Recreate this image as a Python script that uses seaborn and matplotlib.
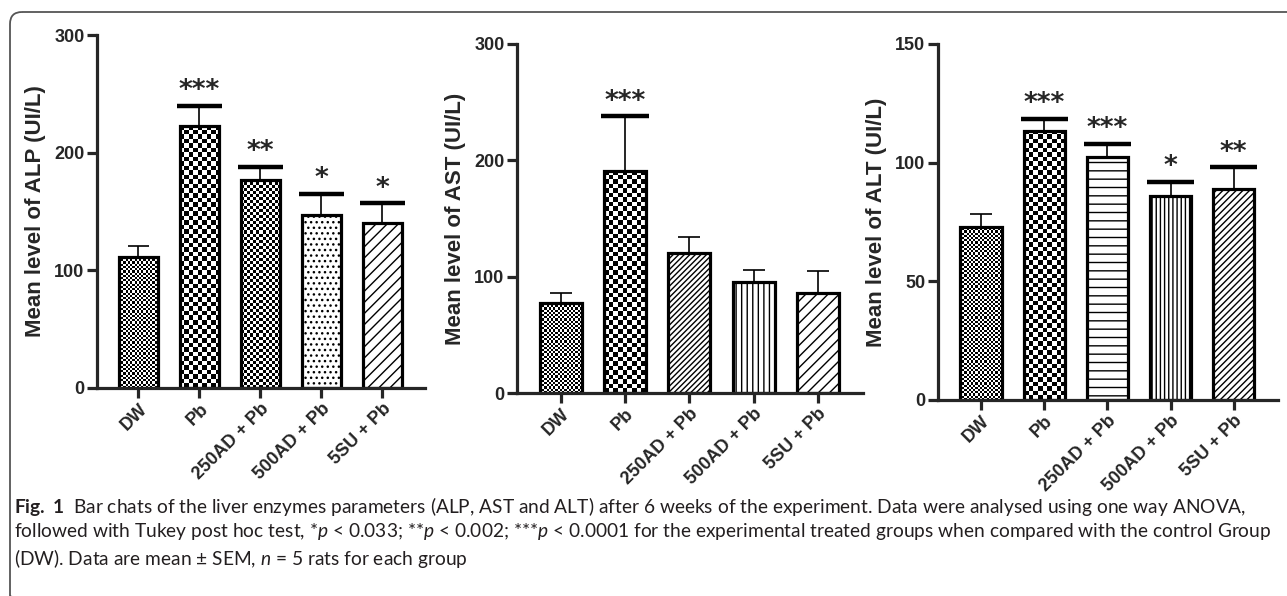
import numpy as np
import pandas as pd
import matplotlib
matplotlib.use("Agg")
import matplotlib.pyplot as plt
import seaborn as sns
from matplotlib.patches import FancyBboxPatch

# Data
groups = ["DW", "Pb", "250AD + Pb", "500AD + Pb", "5SU + Pb"]

alp_mean = [111, 223, 177, 147, 140]
alp_sem = [10, 17, 11, 18, 17]
alp_sig = ["", "***", "**", "*", "*"]

ast_mean = [77, 191, 120, 95, 86]
ast_sem = [9, 47, 14, 11, 19]
ast_sig = ["", "***", "", "", ""]

alt_mean = [73, 113.5, 102.5, 86, 89]
alt_sem = [5.5, 5, 5.5, 6, 9]
alt_sig = ["", "***", "***", "*", "**"]

# fill style per bar: ("checker", cell px) or ("hatch", pattern)
alp_fill = [("checker", 2.2), ("checker", 4.5), ("checker", 3.0), ("hatch", "..."), ("hatch", "///")]
ast_fill = [("checker", 2.2), ("checker", 4.5), ("hatch", "//////"), ("hatch", "|||"), ("hatch", "///")]
alt_fill = [("checker", 2.2), ("checker", 4.5), ("hatch", "--"), ("hatch", "||||"), ("hatch", "/////")]

sns.set_theme(style="ticks")
plt.rcParams["font.family"] = ["Liberation Sans", "DejaVu Sans"]
plt.rcParams["hatch.linewidth"] = 1.0
plt.rcParams["mathtext.fontset"] = "custom"
plt.rcParams["mathtext.rm"] = "Lato"
plt.rcParams["mathtext.it"] = "Lato:italic"
plt.rcParams["mathtext.bf"] = "Lato:bold"

W, H = 1287, 596
fig = plt.figure(figsize=(W / 100, H / 100), dpi=100)


def px_axes(left, right, top, bottom):
    return fig.add_axes([left / W, 1 - bottom / H, (right - left) / W, (bottom - top) / H])


def add_checker(ax, bar, cell):
    x0, w, h = bar.get_x(), bar.get_width(), bar.get_height()
    p0 = ax.transData.transform((x0, 0))
    p1 = ax.transData.transform((x0 + w, h))
    ncol = max(int(round(abs(p1[0] - p0[0]) / cell)), 1)
    nrow = max(int(round(abs(p1[1] - p0[1]) / cell)), 1)
    img = (np.add.outer(np.arange(nrow), np.arange(ncol)) % 2).astype(float)
    im = ax.imshow(img, extent=(x0, x0 + w, 0, h), cmap="gray", vmin=0, vmax=1,
                   interpolation="nearest", aspect="auto", zorder=0.5)
    im.set_clip_path(bar)


def panel(ax, means, sems, sigs, fills, ymax, ystep, ylabel):
    df = pd.DataFrame({"group": groups, "mean": means})
    sns.barplot(data=df, x="group", y="mean", ax=ax, color="white", width=0.65,
                edgecolor="black", linewidth=2.3, errorbar=None, saturation=1)
    ax.set_xlim(-0.68, 4.7)
    ax.set_ylim(0, ymax)
    for bar, (kind, val) in zip(ax.patches, fills):
        bar.set_zorder(2)
        if kind == "checker":
            bar.set_facecolor("none")
            add_checker(ax, bar, val)
        else:
            bar.set_facecolor("white")
            bar.set_hatch(val)
    ax.set_xlim(-0.68, 4.7)
    ax.set_ylim(0, ymax)

    xs = np.arange(len(groups))
    ax.vlines(xs, means, np.add(means, sems), color="black", lw=1.2, zorder=1)
    for x, m, s, sig in zip(xs, means, sems, sigs):
        top = m + s
        if sig:
            ax.hlines(top, x - 0.37, x + 0.37, color="black", lw=3.2, zorder=3)
            ax.annotate(sig, (x, top), xytext=(0, 1), textcoords="offset points",
                        ha="center", va="bottom", fontsize=19, fontweight="bold",
                        family="DejaVu Sans")
        else:
            ax.hlines(top, x - 0.17, x + 0.17, color="black", lw=1.2, zorder=3)

    ax.set_yticks(np.arange(0, ymax + 1, ystep))
    ax.set_xlabel("")
    ax.set_ylabel(ylabel, fontsize=16, fontweight="bold", labelpad=6)
    sns.despine(ax=ax)
    for sp in ["left", "bottom"]:
        ax.spines[sp].set_linewidth(2.3)
    ax.tick_params(axis="both", length=7, width=2.3, labelsize=13, pad=2)
    for lab in ax.get_yticklabels():
        lab.set_fontweight("bold")
    ax.set_xticks(xs)
    ax.set_xticklabels(groups, rotation=45, ha="right", va="top", rotation_mode="anchor",
                       fontweight="bold", fontsize=13)


ax1 = px_axes(97, 425, 35, 388)
panel(ax1, alp_mean, alp_sem, alp_sig, alp_fill, 300, 100, "Mean level of ALP (UI/L)")
ax2 = px_axes(517, 863, 44, 393)
panel(ax2, ast_mean, ast_sem, ast_sig, ast_fill, 300, 100, "Mean level of AST (UI/L)")
ax3 = px_axes(938, 1278, 44, 400)
panel(ax3, alt_mean, alt_sem, alt_sig, alt_fill, 150, 50, "Mean level of ALT (UI/L)")

# frame and caption drawn in pixel coordinates
bg = fig.add_axes([0, 0, 1, 1], zorder=-1)
bg.set_xlim(0, W)
bg.set_ylim(H, 0)
bg.axis("off")
bg.add_patch(FancyBboxPatch((10, 12), W + 40, 596, boxstyle="round,pad=0,rounding_size=12",
                            fc="none", ec="#555555", lw=1.3))

caption = [
    r"$\mathbf{Fig.\ 1}$  Bar chats of the liver enzymes parameters (ALP, AST and ALT) after 6 weeks of the experiment. Data were analysed using one way ANOVA,",
    r"followed with Tukey post hoc test, *$p$ < 0.033; **$p$ < 0.002; ***$p$ < 0.0001 for the experimental treated groups when compared with the control Group",
    r"(DW). Data are mean $\pm$ SEM, $n$ = 5 rats for each group",
]
cap_y = [506, 532, 558]
texts = [bg.text(14, y, line, fontsize=11, family="Lato", color="#231f20", va="center")
         for line, y in zip(caption, cap_y)]
fig.canvas.draw()
scale = (1267 - 14) / texts[1].get_window_extent().width
for t in texts:
    t.set_fontsize(11 * scale)

fig.savefig("out.png", dpi=100)
